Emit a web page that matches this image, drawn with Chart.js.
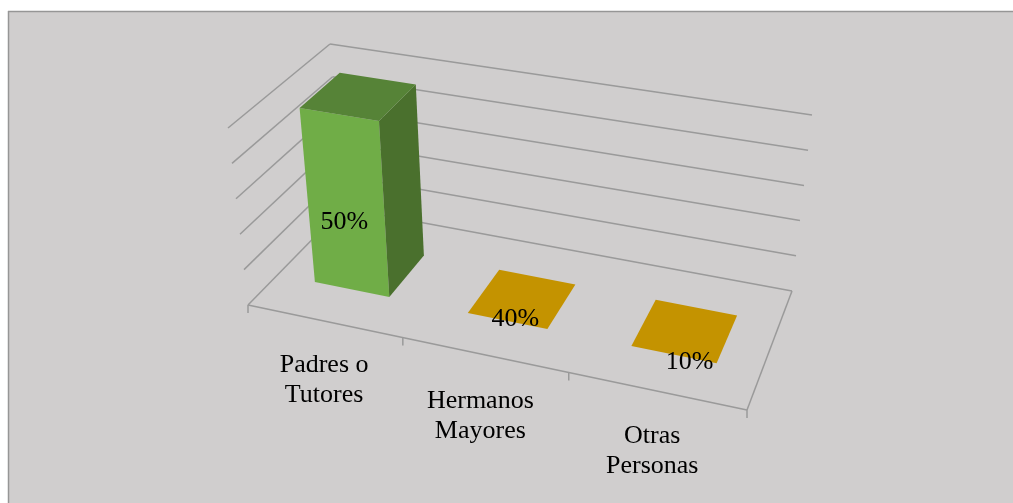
<!DOCTYPE html>
<html>
<head>
<meta charset="utf-8">
<style>
html, body { margin: 0; padding: 0; background: #ffffff; }
#wrap { width: 1013px; height: 503px; position: relative; }
</style>
<script src="https://cdn.jsdelivr.net/npm/chart.js@4/dist/chart.umd.min.js"></script>
</head>
<body>
<div id="wrap"><canvas id="chart" width="1013" height="503"></canvas></div>
<script>
var categories = [['Padres o', 'Tutores'], ['Hermanos', 'Mayores'], ['Otras', 'Personas']];
var barValues = [50, 0, 0];
var barLabels = ['50%', '40%', '10%'];
var axisMax = 50;
var axisStep = 10;

// corners of the 3d box on screen, floor and top plane
var floorQuad = [[248, 305], [747, 410], [792, 291], [343, 208]];
var topQuad = [[228, 128], [769, 221], [812, 115], [330, 44]];
var depthStart = 0.29, depthEnd = 0.70;
var labelOffsets = [[-1, 20], [8, -2], [16, 8]];
var catLabelOffsets = [[0, 44], [-4, 46], [-4, 45]];
var FONT = '26px "Liberation Serif", "Times New Roman", serif';
var GRID = '#9a9a9a';

// maps the unit square to a quad
function makeHomography(q) {
    var dx1 = q[1][0] - q[2][0], dx2 = q[3][0] - q[2][0], sx = q[0][0] - q[1][0] + q[2][0] - q[3][0];
    var dy1 = q[1][1] - q[2][1], dy2 = q[3][1] - q[2][1], sy = q[0][1] - q[1][1] + q[2][1] - q[3][1];
    var den = dx1 * dy2 - dx2 * dy1;
    var g = (sx * dy2 - dx2 * sy) / den;
    var h = (dx1 * sy - sx * dy1) / den;
    var a = q[1][0] - q[0][0] + g * q[1][0], b = q[3][0] - q[0][0] + h * q[3][0], c = q[0][0];
    var d = q[1][1] - q[0][1] + g * q[1][1], e = q[3][1] - q[0][1] + h * q[3][1], f = q[0][1];
    return function(u, v) {
        var w = g * u + h * v + 1;
        return [(a * u + b * v + c) / w, (d * u + e * v + f) / w];
    };
}
var floorMap = makeHomography(floorQuad);
var topMap = makeHomography(topQuad);

// u along categories, v depth, w height (all 0..1)
function project(u, v, w) {
    var p = floorMap(u, v), t = topMap(u, v);
    return [p[0] + (t[0] - p[0]) * w, p[1] + (t[1] - p[1]) * w];
}

function line(ctx, a, b, color, width) {
    ctx.strokeStyle = color;
    ctx.lineWidth = width;
    ctx.beginPath();
    ctx.moveTo(a[0], a[1]);
    ctx.lineTo(b[0], b[1]);
    ctx.stroke();
}

function poly(ctx, pts, color) {
    ctx.fillStyle = color;
    ctx.beginPath();
    ctx.moveTo(pts[0][0], pts[0][1]);
    for (var i = 1; i < pts.length; i++) {
        ctx.lineTo(pts[i][0], pts[i][1]);
    }
    ctx.closePath();
    ctx.fill();
}

var box3d = {
    id: 'box3d',
    beforeDraw: function(chart) {
        var ctx = chart.ctx;
        ctx.save();
        ctx.fillStyle = '#ffffff';
        ctx.fillRect(0, 0, chart.width, chart.height);
        ctx.fillStyle = '#d0cece';
        ctx.fillRect(8, 11, chart.width - 8, chart.height - 11);
        line(ctx, [8, 11.5], [chart.width, 11.5], '#969696', 1.5);
        line(ctx, [8.5, 11], [8.5, chart.height], '#969696', 1.5);
        ctx.restore();
    },
    afterDatasetsDraw: function(chart) {
        var ctx = chart.ctx, area = chart.chartArea;
        var xScale = chart.scales.x, yScale = chart.scales.y;
        var bars = chart.getDatasetMeta(0).data;
        ctx.save();

        // walls, one line for each tick of the value axis
        yScale.ticks.forEach(function(tick) {
            var w = (yScale.bottom - yScale.getPixelForValue(tick.value)) / yScale.height;
            line(ctx, project(0, 0, w), project(0, 1, w), GRID, 1.5);
            line(ctx, project(0, 1, w), project(1, 1, w), GRID, 1.5);
        });

        // floor edges and tick marks
        line(ctx, project(0, 0, 0), project(1, 0, 0), GRID, 1.5);
        line(ctx, project(1, 0, 0), project(1, 1, 0), GRID, 1.5);
        for (var t = 0; t <= categories.length; t++) {
            var p = project(t / categories.length, 0, 0);
            line(ctx, p, [p[0], p[1] + 8], GRID, 1.5);
        }

        // bars
        bars.forEach(function(bar, i) {
            var u0 = (bar.x - bar.width / 2 - area.left) / area.width;
            var u1 = (bar.x + bar.width / 2 - area.left) / area.width;
            var w = (bar.base - bar.y) / yScale.height;
            var fl = project(u0, depthStart, 0), fr = project(u1, depthStart, 0), br = project(u1, depthEnd, 0), bl = project(u0, depthEnd, 0);
            if (w > 0) {
                var tfl = project(u0, depthStart, w), tfr = project(u1, depthStart, w), tbr = project(u1, depthEnd, w), tbl = project(u0, depthEnd, w);
                poly(ctx, [fl, fr, tfr, tfl], '#70ad47');
                poly(ctx, [fr, br, tbr, tfr], '#4a702d');
                poly(ctx, [tfl, tfr, tbr, tbl], '#568337');
            } else {
                poly(ctx, [fl, fr, br, bl], '#c49300');
            }
            var mid = project((u0 + u1) / 2, depthStart, w / 2);
            ctx.fillStyle = '#000000';
            ctx.font = FONT;
            ctx.textAlign = 'center';
            ctx.textBaseline = 'middle';
            ctx.fillText(barLabels[i], mid[0] + labelOffsets[i][0], mid[1] + labelOffsets[i][1]);
        });

        // category labels below the front edge
        categories.forEach(function(lines, i) {
            var u = (xScale.getPixelForValue(i) - area.left) / area.width;
            var p = project(u, 0, 0);
            lines.forEach(function(txt, n) {
                ctx.fillText(txt, p[0] + catLabelOffsets[i][0], p[1] + catLabelOffsets[i][1] + n * 30);
            });
        });
        ctx.restore();
    }
};

new Chart(document.getElementById('chart'), {
    type: 'bar',
    data: {
        labels: categories,
        datasets: [{
            data: barValues,
            backgroundColor: 'rgba(0,0,0,0)',
            categoryPercentage: 0.9,
            barPercentage: 0.55
        }]
    },
    options: {
        responsive: false,
        animation: false,
        layout: { padding: 0 },
        plugins: { legend: { display: false }, tooltip: { enabled: false } },
        scales: {
            x: { display: false },
            y: { display: false, min: 0, max: axisMax, ticks: { stepSize: axisStep } }
        }
    },
    plugins: [box3d]
});
</script>
</body>
</html>
